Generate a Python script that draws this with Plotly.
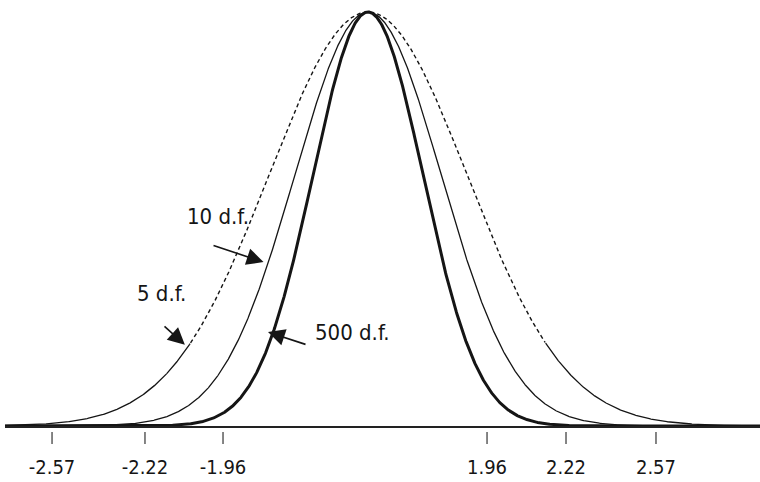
import numpy as np
import plotly.graph_objects as go

# Three bell curves, all scaled to a common peak; spread is relative to the 500 d.f. curve
dof_labels = ["5 d.f.", "10 d.f.", "500 d.f."]
spreads = [1.80, 1.33, 1.00]

# Two-sided 5% critical values marked under the axis
crit_labels = ["-2.57", "-2.22", "-1.96", "1.96", "2.22", "2.57"]
crit_pos = [-5.745, -4.055, -2.636, 2.164, 3.60, 5.236]   # where each mark sits on the drawn axis

X_MIN, X_MAX = -6.60, 7.127
FONT = "'Liberation Sans Narrow', 'DejaVu Sans Condensed', sans-serif"
INK = "#151515"

x = np.linspace(X_MIN, X_MAX, 1600)

fig = go.Figure()

def bell(s):
    return np.exp(-x ** 2 / (2 * s ** 2))

# 5 d.f.: dashed over the body of the curve, solid in the tails
s5, s10, s500 = spreads
y5 = bell(s5)
body = y5 >= 0.2
y_body = np.where(body, y5, np.nan)
y_tail = np.where(~body, y5, np.nan)
fig.add_trace(go.Scatter(x=x, y=y_body, mode="lines", name=dof_labels[0],
                         line=dict(color=INK, width=1.4, dash="4px,3px"), connectgaps=False))
fig.add_trace(go.Scatter(x=x, y=y_tail, mode="lines", showlegend=False,
                         line=dict(color=INK, width=1.3), connectgaps=False))
fig.add_trace(go.Scatter(x=x, y=bell(s10), mode="lines", name=dof_labels[1],
                         line=dict(color=INK, width=1.3)))
fig.add_trace(go.Scatter(x=x, y=bell(s500), mode="lines", name=dof_labels[2],
                         line=dict(color=INK, width=3.0)))

# small tick marks hanging just below the axis line
for p in crit_pos:
    fig.add_shape(type="line", xref="x", yref="paper", x0=p, x1=p,
                  y0=-6 / 426, y1=-18 / 426, line=dict(color="#333", width=1.2))

# curve labels and their arrows
label_xy = [(-3.75, 0.321), (-2.73, 0.506), (-0.29, 0.225)]
for txt, (lx, ly) in zip(dof_labels, label_xy):
    fig.add_annotation(x=lx, y=ly, text=txt, showarrow=False,
                       font=dict(family=FONT, size=22, color=INK))

arrows = [((-3.33, 0.196), (-3.727, 0.244)),
          ((-1.90, 0.396), (-2.836, 0.437)),
          ((-1.818, 0.227), (-1.109, 0.196))]
for (tx, ty), (ax, ay) in arrows:
    fig.add_annotation(x=tx, y=ty, ax=ax, ay=ay, xref="x", yref="y", axref="x", ayref="y",
                       text="", showarrow=True, arrowhead=2, arrowsize=2.1,
                       arrowwidth=1.6, arrowcolor=INK)

fig.update_layout(
    width=760, height=482,
    margin=dict(l=5, r=0, t=0, b=56),
    paper_bgcolor="white", plot_bgcolor="white",
    showlegend=False,
    xaxis=dict(range=[X_MIN, X_MAX], showgrid=False, zeroline=False, automargin=False,
               showline=True, linecolor="#222", linewidth=2,
               tickmode="array", tickvals=crit_pos, ticktext=crit_labels,
               ticks="", ticklabelstandoff=22,
               tickfont=dict(family=FONT, size=20, color=INK)),
    yaxis=dict(range=[0, 426 / 414], visible=False, showgrid=False, zeroline=False),
)

fig.write_html("out.html")
